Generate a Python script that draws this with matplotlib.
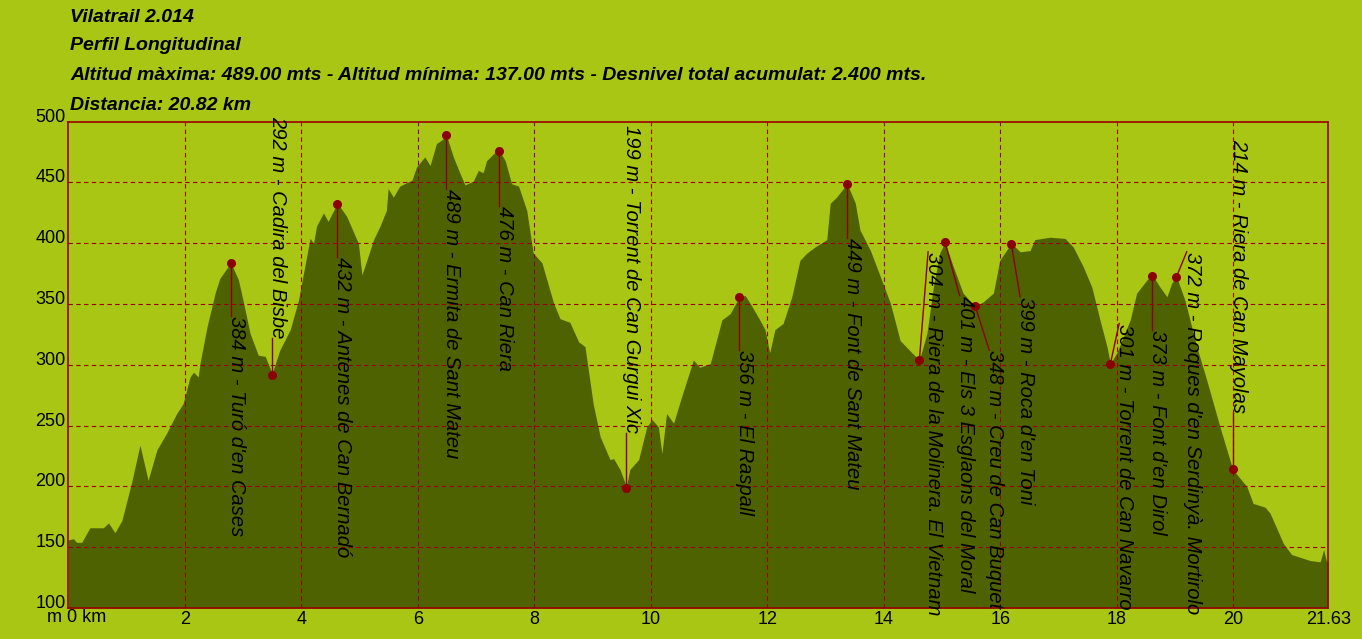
import matplotlib
matplotlib.use("Agg")
import matplotlib.pyplot as plt

# perfil (km, m)
dist_km = [0.00, 0.09, 0.14, 0.23, 0.37, 0.60, 0.69, 0.80, 0.92, 1.09, 1.23, 1.37, 1.52, 1.69, 1.86,
           1.97, 2.09, 2.15, 2.23, 2.26, 2.38, 2.52, 2.60, 2.79, 2.92, 3.00, 3.12, 3.26, 3.38, 3.50,
           3.63, 3.81, 3.95, 4.06, 4.15, 4.21, 4.26, 4.38, 4.46, 4.62, 4.78, 4.98, 5.04, 5.09, 5.24,
           5.35, 5.46, 5.49, 5.58, 5.69, 5.90, 5.98, 6.12, 6.21, 6.32, 6.44, 6.49, 6.61, 6.72, 6.81,
           6.95, 7.04, 7.12, 7.18, 7.33, 7.40, 7.50, 7.61, 7.73, 7.87, 7.98, 8.13, 8.33, 8.44, 8.61,
           8.76, 8.87, 9.01, 9.13, 9.30, 9.36, 9.47, 9.58, 9.64, 9.79, 9.93, 10.02, 10.13, 10.19, 10.27,
           10.39, 10.53, 10.73, 10.84, 11.02, 11.07, 11.22, 11.36, 11.52, 11.62, 11.70, 11.87, 11.96,
           12.04, 12.13, 12.27, 12.42, 12.56, 12.68, 12.82, 13.02, 13.08, 13.19, 13.37, 13.51, 13.59,
           13.77, 13.96, 14.11, 14.28, 14.48, 14.61, 14.74, 14.85, 14.96, 15.05, 15.19, 15.36, 15.57,
           15.71, 15.88, 15.99, 16.19, 16.34, 16.51, 16.59, 16.85, 17.11, 17.25, 17.42, 17.57, 17.71,
           17.83, 17.89, 18.00, 18.23, 18.34, 18.52, 18.61, 18.74, 18.86, 18.94, 19.02, 19.17, 19.37,
           19.54, 19.77, 19.99, 20.23, 20.34, 20.54, 20.63, 20.86, 21.00, 21.32, 21.49, 21.55, 21.60,
           21.63]
alt_m = [156, 157, 154, 154, 166, 166, 170, 162, 172, 204, 234, 205, 230, 244, 260,
         268, 290, 294, 290, 301, 331, 359, 371, 384, 370, 353, 326, 308, 307, 293,
         312, 329, 353, 381, 404, 400, 414, 425, 418, 433, 422, 400, 374, 381, 403,
         414, 427, 445, 438, 447, 452, 463, 471, 464, 482, 486, 489, 471, 458, 448,
         451, 460, 458, 468, 475, 476, 468, 449, 447, 427, 392, 384, 351, 338, 335,
         319, 315, 268, 241, 222, 223, 214, 200, 214, 222, 249, 255, 249, 227, 260,
         252, 274, 304, 298, 301, 310, 337, 342, 356, 357, 351, 337, 329,
         310, 329, 334, 356, 386, 392, 397, 403, 433, 438, 449, 433, 411,
         394, 370, 351, 320, 310, 304, 326, 364, 392, 401, 381, 359, 348,
         352, 359, 386, 400, 393, 394, 403, 405, 404, 397, 381, 364, 337,
         315, 301, 310, 337, 359, 370, 374, 364, 356, 367, 373, 353, 315,
         288, 249, 214, 200, 186, 183, 178, 153, 144, 139, 138, 148, 138,
         138]

# punts d'interes
wp_km = [2.79, 3.50, 4.62, 6.49, 7.40, 9.58, 11.52, 13.37, 14.61, 15.05, 15.57, 16.19,
         17.89, 18.61, 19.02, 19.99]
wp_alt = [384, 292, 432, 489, 476, 199, 356, 449, 304, 401, 348, 399, 301, 373, 372, 214]
wp_name = ["Turó d'en Cases", "Cadira del Bisbe", "Antenes de Can Bernadó",
           "Ermita de Sant Mateu", "Can Riera", "Torrent de Can Gurgui Xic", "El Raspall",
           "Font de Sant Mateu", "Riera de la Molinera. El Vietnam", "Els 3 Esglaons del Moral",
           "Creu de Can Buquet", "Roca d'en Toni", "Torrent de Can Navarro", "Font d'en Dirol",
           "Roques d'en Serdinyà. Mortirolo", "Riera de Can Mayolas"]

# on comença/acaba cada etiqueta
lab_km = [2.79, 3.50, 4.62, 6.49, 7.40, 9.58, 11.52, 13.37, 14.76, 15.30, 15.81, 16.34,
          18.04, 18.61, 19.20, 19.99]
lab_alt = [340, 322, 389, 445, 431, 244, 312, 404, 393, 357, 312, 356, 334, 329, 393, 260]
lab_above = [1, 5, 15]

fons = '#AAC614'
terra = '#4E6202'
vermell = '#990000'

fig = plt.figure(figsize=(13.62, 6.39), dpi=100, facecolor=fons)
ax = fig.add_axes([68.3/1362, 1-608/639, 1260/1362, (608-121.7)/639])
ax.set_facecolor(fons)

ax.fill_between(dist_km, 100, alt_m, color=terra, lw=0, zorder=1)
ax.set_xlim(0, 21.63)
ax.set_ylim(100, 500)

for x in range(2, 21, 2):
    ax.axvline(x, color=vermell, lw=0.8, ls=(0, (4, 3)), zorder=2)
for y in range(150, 500, 50):
    ax.axhline(y, color=vermell, lw=0.8, ls=(0, (4, 3)), zorder=2)

for s in ax.spines.values():
    s.set_color(vermell)
    s.set_linewidth(1.2)

ax.set_yticks(range(100, 501, 50))
ax.set_yticklabels([str(v) for v in range(100, 501, 50)], fontsize=13,
                   family='Liberation Sans')
for t in ax.get_yticklabels():
    t.set_verticalalignment('baseline')
ax.set_xticks(list(range(2, 21, 2)) + [21.63])
ax.set_xticklabels([str(v) for v in range(2, 21, 2)] + ['21.63'], fontsize=13,
                   family='Liberation Sans')
ax.tick_params(length=0, pad=2)
fig.text(77/1362, 1-618/639, 'm 0 km', ha='center', va='center', fontsize=13,
         family='Liberation Sans')

for i in range(len(wp_km)):
    ax.plot([wp_km[i], lab_km[i]], [wp_alt[i], lab_alt[i]], color='#8B0000', lw=1, zorder=3)
    ax.plot(wp_km[i], wp_alt[i], 'o', color='#8B0000', ms=5.5, zorder=4)
    txt = '%d m - %s' % (wp_alt[i], wp_name[i])
    ax.text(lab_km[i], lab_alt[i], txt, rotation=-90, rotation_mode='anchor',
            ha='right' if i in lab_above else 'left', va='baseline',
            fontsize=14.5, style='italic', family='Liberation Sans', color='black', zorder=5)

titols = ['Vilatrail 2.014', 'Perfil Longitudinal',
          'Altitud màxima: 489.00 mts - Altitud mínima: 137.00 mts - Desnivel total acumulat: 2.400 mts.',
          'Distancia: 20.82 km']
ys = [17, 46, 76, 106]
for t, y in zip(titols, ys):
    fig.text(70/1362, 1-y/639, t, ha='left', va='center', fontsize=14,
             style='italic', weight='bold', family='Liberation Sans')

fig.savefig('out.png', dpi=100, facecolor=fons)
